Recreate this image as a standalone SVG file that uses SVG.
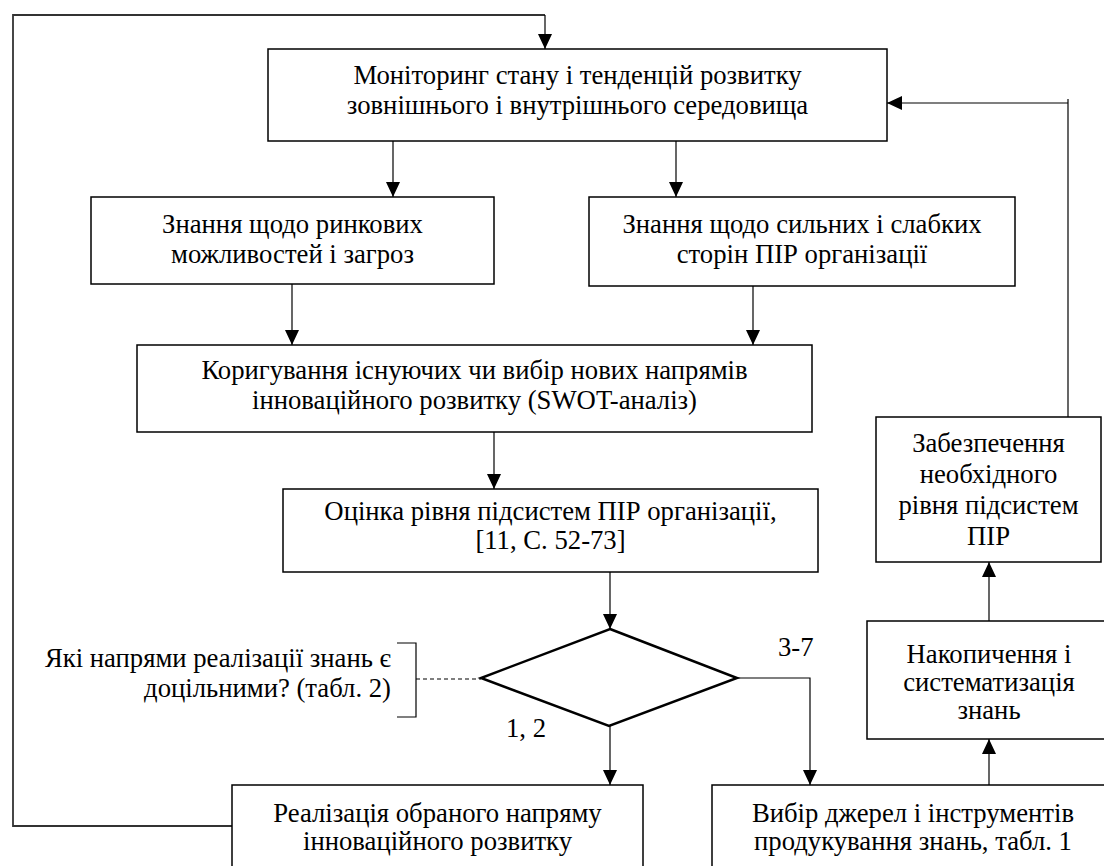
<svg xmlns="http://www.w3.org/2000/svg" width="1104" height="866" viewBox="0 0 1104 866">
<style>
.box{fill:#fff;stroke:#000;stroke-width:1.5}
.dia{fill:#fff;stroke:#000;stroke-width:2.5}
.ln{fill:none;stroke:#000;stroke-width:1.2}
.loop{fill:none;stroke:#333;stroke-width:1.8}
.dash{fill:none;stroke:#000;stroke-width:1.2;stroke-dasharray:4,3}
.t{font-family:"Liberation Serif","Times New Roman",serif;font-size:26.7px;fill:#000}
.c{text-anchor:middle}
.e{text-anchor:end}
</style>
<defs>
<marker id="ah" markerUnits="userSpaceOnUse" markerWidth="15" markerHeight="14" refX="15" refY="7" orient="auto">
<path d="M0,0 L15,7 L0,14 z" fill="#000"/>
</marker>
</defs>
<rect width="1104" height="866" fill="#fff"/>
<g id="connectors">
<polyline class="loop" points="232,826 13,826 13,15 545,15"/>
<line class="ln" x1="545" y1="15" x2="545" y2="49" marker-end="url(#ah)"/>
<line class="ln" x1="1068" y1="417" x2="1068" y2="99"/>
<line class="ln" x1="1068" y1="103" x2="887" y2="103" marker-end="url(#ah)"/>
<line class="ln" x1="393" y1="141" x2="393" y2="197" marker-end="url(#ah)"/>
<line class="ln" x1="676" y1="141" x2="676" y2="197" marker-end="url(#ah)"/>
<line class="ln" x1="292" y1="284" x2="292" y2="345" marker-end="url(#ah)"/>
<line class="ln" x1="753" y1="286" x2="753" y2="345" marker-end="url(#ah)"/>
<line class="ln" x1="494" y1="432" x2="494" y2="489" marker-end="url(#ah)"/>
<line class="ln" x1="610" y1="572" x2="610" y2="629" marker-end="url(#ah)"/>
<line class="ln" x1="610" y1="726" x2="610" y2="785" marker-end="url(#ah)"/>
<polyline class="ln" points="737,678 810,678 810,785" marker-end="url(#ah)"/>
<line class="ln" x1="989" y1="785" x2="989" y2="739" marker-end="url(#ah)"/>
<line class="ln" x1="989" y1="621" x2="989" y2="562" marker-end="url(#ah)"/>
<line class="dash" x1="416" y1="679" x2="481" y2="679"/>
<polyline class="ln" points="397,643 416,643 416,717 397,717"/>
</g>
<g id="n-monitoring">
<rect class="box" x="268" y="49" width="619" height="92"/>
<text class="t c"><tspan x="577.5" y="84">Моніторинг стану і тенденцій розвитку</tspan><tspan x="577.5" y="114">зовнішнього і внутрішнього середовища</tspan></text>
</g>
<g id="n-market">
<rect class="box" x="91" y="197" width="403" height="87"/>
<text class="t c"><tspan x="292.5" y="233">Знання щодо ринкових</tspan><tspan x="292.5" y="263">можливостей і загроз</tspan></text>
</g>
<g id="n-strengths">
<rect class="box" x="589" y="197" width="426" height="89"/>
<text class="t c"><tspan x="802" y="233">Знання щодо сильних і слабких</tspan><tspan x="802" y="263">сторін ПІР організації</tspan></text>
</g>
<g id="n-swot">
<rect class="box" x="137" y="345" width="675" height="87"/>
<text class="t c"><tspan x="474.5" y="379">Коригування існуючих чи вибір нових напрямів</tspan><tspan x="474.5" y="409">інноваційного розвитку (SWOT-аналіз)</tspan></text>
</g>
<g id="n-assess">
<rect class="box" x="283" y="489" width="535" height="83"/>
<text class="t c"><tspan x="550.5" y="520">Оцінка рівня підсистем ПІР організації,</tspan><tspan x="550.5" y="549">[11, С. 52-73]</tspan></text>
</g>
<g id="n-decision">
<polygon class="dia" points="610,629 737,678 609,726 481,678"/>
<text class="t" x="778" y="656">3-7</text>
<text class="t" x="506" y="737">1, 2</text>
</g>
<g id="n-question">
<text class="t e"><tspan x="391" y="667">Які напрями реалізації знань є</tspan><tspan x="391" y="697">доцільними? (табл. 2)</tspan></text>
</g>
<g id="n-ensure">
<rect class="box" x="876" y="417" width="225" height="145"/>
<text class="t c"><tspan x="988.5" y="452">Забезпечення</tspan><tspan x="988.5" y="483">необхідного</tspan><tspan x="988.5" y="514">рівня підсистем</tspan><tspan x="988.5" y="545">ПІР</tspan></text>
</g>
<g id="n-accum">
<rect class="box" x="867" y="621" width="244" height="118"/>
<text class="t c"><tspan x="989" y="663">Накопичення і</tspan><tspan x="989" y="691">систематизація</tspan><tspan x="989" y="719">знань</tspan></text>
</g>
<g id="n-realize">
<rect class="box" x="232" y="785" width="411" height="100"/>
<text class="t c"><tspan x="437.5" y="822">Реалізація обраного напряму</tspan><tspan x="437.5" y="850">інноваційного розвитку</tspan></text>
</g>
<g id="n-sources">
<rect class="box" x="712" y="785" width="402" height="100"/>
<text class="t c"><tspan x="913" y="822">Вибір джерел і інструментів</tspan><tspan x="913" y="850">продукування знань, табл. 1</tspan></text>
</g>
</svg>
